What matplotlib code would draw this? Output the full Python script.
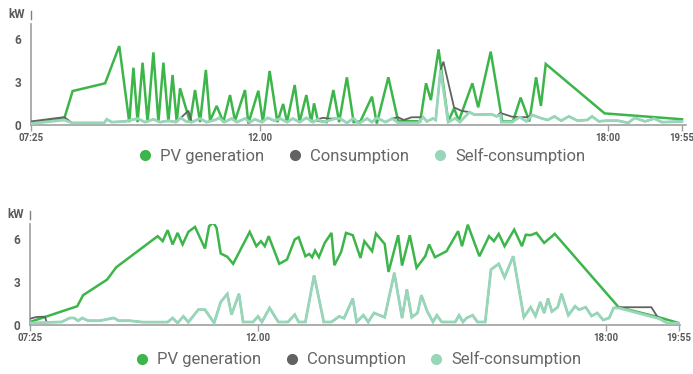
import numpy as np
import matplotlib
matplotlib.use("Agg")
import matplotlib.pyplot as plt
from matplotlib.lines import Line2D

# times are minutes after midnight, power in kW

# --- day 1 ---
d1_pv_t = [445, 485, 495, 534, 551, 563, 568, 573, 579, 585, 592, 598, 604, 610, 615, 620,
           624, 636, 642, 648, 655, 660, 668, 676, 684, 690, 702, 706, 718, 723, 730, 738,
           744, 748, 756, 761, 768, 773, 776, 780, 789, 796, 802, 810, 817, 824, 836, 841,
           853, 863, 886, 892, 897, 905, 915, 921, 926, 940, 946, 959, 971, 982, 990, 999,
           1006, 1011, 1016, 1077, 1195]
d1_pv_kw = [0.16, 0.47, 2.37, 2.91, 5.51, 0.2, 4.0, 0.2, 4.35, 0.2, 5.07, 0.2, 4.35, 0.2, 3.49, 0.2,
            2.56, 0.2, 2.44, 0.2, 3.84, 0.3, 1.33, 0.2, 2.09, 0.3, 2.44, 0.1, 2.39, 0.2, 3.77, 0.2,
            1.47, 0.2, 2.79, 0.2, 2.09, 0.2, 1.51, 0.3, 0.2, 2.44, 0.2, 3.33, 0.2, 0.25, 1.98, 0.1,
            3.33, 0.3, 0.25, 2.91, 1.74, 5.28, 0.25, 1.16, 0.3, 2.91, 1.23, 5.12, 0.25, 0.25, 1.91, 0.25,
            3.33, 1.33, 4.26, 0.81, 0.4]

d1_self_t = [445, 485, 494, 533, 536, 542, 558, 573, 582, 592, 600, 610, 619, 625, 631, 638,
             648, 656, 666, 671, 677, 686, 692, 702, 708, 714, 722, 728, 735, 741, 748, 754,
             761, 768, 775, 780, 785, 791, 798, 803, 810, 817, 822, 831, 836, 841, 850, 857,
             863, 884, 889, 893, 899, 902, 907, 915, 922, 927, 937, 942, 960, 965, 969, 970,
             981, 989, 996, 1002, 1010, 1018, 1025, 1032, 1040, 1049, 1059, 1064, 1071, 1078,
             1096, 1112, 1122, 1138, 1152, 1164, 1195]
d1_self_kw = [0.1, 0.35, 0.15, 0.15, 0.4, 0.2, 0.25, 0.45, 0.2, 0.4, 0.2, 0.3, 0.2, 0.5, 0.25, 0.2,
              0.45, 0.2, 0.35, 0.5, 0.2, 0.45, 0.2, 0.45, 0.2, 0.4, 0.2, 0.5, 0.3, 0.45, 0.2, 0.45,
              0.2, 0.5, 0.2, 0.4, 0.2, 0.3, 0.45, 0.45, 0.15, 0.47, 0.1, 0.45, 0.2, 0.5, 0.2, 0.45,
              0.15, 0.15, 0.55, 0.25, 0.45, 0.35, 3.84, 0.2, 0.47, 0.2, 0.9, 0.72, 0.75, 0.6, 0.7, 0.2,
              0.2, 0.55, 0.25, 0.7, 0.5, 0.35, 0.6, 0.3, 0.6, 0.3, 0.35, 0.6, 0.25, 0.3,
              0.3, 0.15, 0.5, 0.25, 0.45, 0.2, 0.25]

d1_cons_t = [445, 485, 494, 533, 536, 542, 558, 573, 582, 592, 600, 610, 619, 625, 634,
             638, 648, 656, 666, 671, 677, 686, 692, 702, 708, 714, 722, 728, 735, 741, 748,
             754, 761, 768, 775, 780, 785, 791, 798, 803, 810, 817, 822, 831, 836, 841, 850,
             857, 863, 869, 877, 884, 889, 893, 899, 902, 907, 910, 921, 929, 937, 942, 960,
             965, 969, 981, 989, 996, 1002, 1010, 1018, 1025, 1032, 1040, 1049, 1059, 1064,
             1071, 1078, 1096, 1112, 1122, 1138, 1152, 1164, 1195]
d1_cons_kw = [0.25, 0.55, 0.15, 0.15, 0.4, 0.2, 0.25, 0.45, 0.2, 0.4, 0.2, 0.3, 0.2, 0.5, 1.0,
              0.2, 0.45, 0.2, 0.35, 0.5, 0.2, 0.45, 0.2, 0.45, 0.2, 0.4, 0.2, 0.5, 0.3, 0.45, 0.2,
              0.45, 0.2, 0.5, 0.2, 0.4, 0.5, 0.45, 0.45, 0.45, 0.15, 0.47, 0.1, 0.45, 0.2, 0.5, 0.2,
              0.45, 0.54, 0.35, 0.54, 0.54, 0.55, 0.25, 0.45, 0.35, 3.84, 4.42, 1.23, 0.98, 0.9, 0.72, 0.75,
              0.6, 0.84, 0.58, 0.55, 0.54, 0.7, 0.5, 0.35, 0.6, 0.3, 0.6, 0.3, 0.35, 0.6,
              0.25, 0.3, 0.3, 0.15, 0.5, 0.25, 0.45, 0.2, 0.25]

# --- day 2 ---
d2_pv_t = [445, 502, 509, 538, 549, 599, 605, 611, 617, 623, 629, 636, 644, 656, 661, 666,
           670, 675, 683, 690, 710, 718, 723, 727, 731, 742, 750, 758, 762, 769, 773, 776,
           779, 783, 789, 796, 799, 806, 811, 818, 826, 830, 838, 842, 851, 855, 865, 869,
           877, 884, 893, 897, 903, 915, 927, 931, 937, 949, 959, 964, 969, 975, 985, 993,
           997, 1002, 1008, 1016, 1027, 1100, 1164, 1195]
d2_pv_kw = [0.21, 1.31, 2.08, 3.17, 4.03, 6.2, 5.85, 6.62, 5.62, 6.43, 5.62, 6.5, 6.85, 5.34, 6.9, 7.15,
            6.78, 4.99, 4.76, 4.27, 6.5, 5.5, 5.85, 5.5, 6.2, 4.27, 4.57, 5.97, 6.13, 4.8, 4.96, 4.73,
            5.2, 4.73, 5.73, 6.43, 4.17, 5.1, 6.43, 6.27, 4.68, 5.85, 5.15, 6.38, 5.66, 3.7, 6.27, 4.15,
            6.27, 3.99, 4.8, 5.62, 4.73, 5.15, 6.55, 5.5, 7.0, 4.8, 6.2, 5.85, 6.36, 5.5, 6.66, 5.5,
            6.3, 6.27, 6.43, 5.73, 6.36, 1.24, 0.54, 0.14]

d2_self_t = [445, 483, 493, 498, 503, 508, 515, 529, 546, 552, 565, 581, 611, 617, 623, 630,
             636, 648, 656, 667, 675, 683, 688, 697, 702, 714, 720, 724, 732, 741, 751, 758,
             762, 769, 778, 788, 796, 804, 809, 818, 822, 829, 834, 840, 851, 861, 869, 874,
             879, 885, 889, 895, 901, 905, 910, 924, 928, 932, 936, 942, 947, 955, 961, 969,
             975, 984, 995, 1002, 1007, 1012, 1016, 1020, 1024, 1030, 1034, 1041, 1048, 1052,
             1059, 1065, 1071, 1077, 1085, 1092, 1100, 1164, 1177, 1195]
d2_self_kw = [0.14, 0.21, 0.49, 0.49, 0.3, 0.49, 0.3, 0.3, 0.49, 0.3, 0.3, 0.2, 0.2, 0.49, 0.14, 0.6,
              0.2, 1.07, 1.07, 0.14, 1.6, 2.17, 0.72, 2.17, 0.21, 0.21, 0.6, 0.21, 1.19, 0.21, 0.21, 0.72,
              0.21, 0.21, 3.47, 0.21, 0.21, 0.6, 0.47, 1.84, 0.21, 0.68, 0.21, 0.84, 0.54, 3.64, 0.49, 2.47,
              0.54, 0.84, 2.08, 0.96, 0.21, 0.68, 0.21, 0.21, 0.68, 0.21, 0.5, 0.68, 0.21, 0.21, 3.87, 4.27,
              3.33, 4.8, 0.54, 1.24, 0.63, 1.6, 0.84, 1.84, 0.94, 1.24, 2.17, 0.68, 1.31, 1.07,
              1.24, 0.63, 0.84, 0.35, 0.49, 1.19, 1.19, 0.45, 0.14, 0.12]

d2_cons_t = [445, 453, 463, 465, 483, 493, 498, 503, 508, 515, 529, 546, 552, 565, 581, 611,
             617, 623, 630, 636, 648, 656, 667, 675, 683, 688, 697, 702, 714, 720, 724, 732,
             741, 751, 758, 762, 769, 778, 788, 796, 804, 809, 818, 822, 829, 834, 840, 851,
             861, 869, 874, 879, 885, 889, 895, 901, 905, 910, 924, 928, 932, 936, 942, 947,
             955, 961, 969, 975, 984, 995, 1002, 1007, 1012, 1016, 1020, 1024, 1030, 1034, 1041,
             1048, 1052, 1059, 1065, 1071, 1077, 1085, 1092, 1100, 1152, 1163, 1177, 1195]
d2_cons_kw = [0.44, 0.56, 0.58, 0.21, 0.21, 0.49, 0.49, 0.3, 0.49, 0.3, 0.3, 0.49, 0.3, 0.3, 0.2, 0.2,
              0.49, 0.14, 0.6, 0.2, 1.07, 1.07, 0.14, 1.6, 2.17, 0.72, 2.17, 0.21, 0.21, 0.6, 0.21, 1.19,
              0.21, 0.21, 0.72, 0.21, 0.21, 3.47, 0.21, 0.21, 0.6, 0.47, 1.84, 0.21, 0.68, 0.21, 0.84, 0.54,
              3.64, 0.49, 2.47, 0.54, 0.84, 2.08, 0.96, 0.21, 0.68, 0.21, 0.21, 0.68, 0.21, 0.5, 0.68, 0.21,
              0.21, 3.87, 4.27, 3.33, 4.8, 0.54, 1.24, 0.63, 1.6, 0.84, 1.84, 0.94, 1.24, 2.17, 0.68,
              1.31, 1.07, 1.24, 0.63, 0.84, 0.35, 0.49, 1.19, 1.24, 1.24, 0.47, 0.14, 0.12]

tick_t = [445, 720, 1080, 1195]
tick_labels = ["07:25", "12.00", "18:00", "19:55"]
series_names = ["PV generation", "Consumption", "Self-consumption"]
colors = ["#3cb54a", "#626262", "#97d6b8"]
widths = [1.8, 1.3, 2.0]
text_gray = "#5a5a5a"

plt.rcParams['font.family'] = ['Liberation Sans Narrow', 'Roboto', 'DejaVu Sans']

fig = plt.figure(figsize=(6.93, 3.74), dpi=100)


def make_scale(tick_frac, t_end):
    # the time axis is stretched piecewise between the labelled ticks
    kt = [tick_t[0] - 1000] + tick_t + [t_end, t_end + 1000]
    s0 = tick_frac[1] / (tick_t[1] - tick_t[0])
    s1 = (1 - tick_frac[-1]) / (t_end - tick_t[-1])
    kf = [-1000 * s0] + tick_frac + [1.0, 1.0 + 1000 * s1]

    def fwd(t):
        return np.interp(t, kt, kf)

    def inv(f):
        return np.interp(f, kf, kt)
    return fwd, inv


def draw_day(rect, pv, cons, slf, tick_frac, t_end, legend_y):
    ax = fig.add_axes(rect)
    ax.set_xscale('function', functions=make_scale(tick_frac, t_end))
    data = [pv, cons, slf]
    for i, (t, kw) in enumerate(data):
        ax.plot(t, kw, color=colors[i], lw=widths[i], zorder=2 + i, solid_joinstyle='miter')
    ax.set_xlim(tick_t[0], t_end)
    ax.set_ylim(0, 7.05)
    ax.set_xticks(tick_t)
    ax.set_xticklabels(tick_labels)
    ax.set_yticks([0, 3, 6])
    ax.tick_params(axis='x', length=4, width=1, color='#a0a0a0', pad=2,
                   labelsize=7, labelcolor=text_gray)
    ax.tick_params(axis='y', length=0, pad=7, labelsize=8.5, labelcolor=text_gray)
    for lab in ax.get_xticklabels() + ax.get_yticklabels():
        lab.set_fontweight('bold')
    for s in ['top', 'right']:
        ax.spines[s].set_visible(False)
    for s in ['left', 'bottom']:
        ax.spines[s].set_color('#a0a0a0')
        ax.spines[s].set_linewidth(1.2)
    ax.minorticks_off()

    # unit label with its small marker above the axis
    ax.text(-0.01, 1.09, "kW", transform=ax.transAxes, ha='right', va='center',
            fontsize=8.5, fontweight='bold', color=text_gray)
    ax.plot([0, 0], [1.05, 1.13], transform=ax.transAxes, color='#808080',
            lw=1, clip_on=False)

    handles = [Line2D([], [], marker='o', ls='', color=c, markersize=7) for c in colors]
    ax.legend(handles, series_names, loc='center', bbox_to_anchor=(0.505, legend_y), ncol=3,
              frameon=False, fontsize=12, labelcolor='#666666', handlelength=0.8,
              handletextpad=0.5, columnspacing=1.45)
    return ax


draw_day([31 / 693, 1 - 125 / 374, 655 / 693, 101 / 374],
         (d1_pv_t, d1_pv_kw), (d1_cons_t, d1_cons_kw), (d1_self_t, d1_self_kw),
         [0.0, 0.3496, 0.8802, 0.9939], 1201, -0.31)
draw_day([30 / 693, 1 - 325 / 374, 650 / 693, 101 / 374],
         (d2_pv_t, d2_pv_kw), (d2_cons_t, d2_cons_kw), (d2_self_t, d2_self_kw),
         [0.0, 0.3508, 0.8862, 0.9977], 1197.4, -0.34)

fig.savefig("out.png", dpi=100)
